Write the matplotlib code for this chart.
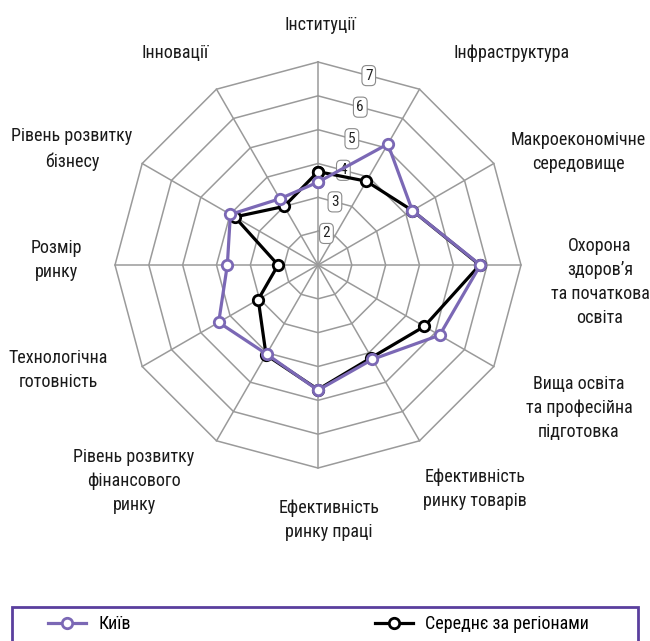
import numpy as np
import matplotlib
matplotlib.use("Agg")
import matplotlib.pyplot as plt
from matplotlib import font_manager
from matplotlib.lines import Line2D
from matplotlib.patches import Rectangle

names = {f.name for f in font_manager.fontManager.ttflist}
fam = None
for cand in ["Roboto Condensed", "Liberation Sans Narrow", "Liberation Sans", "DejaVu Sans"]:
    if cand in names:
        fam = cand
        break
plt.rcParams['font.family'] = [fam, 'DejaVu Sans']

categories = ["Інституції", "Інфраструктура", "Макроекономічне\nсередовище",
              "Охорона\nздоров’я\nта початкова\nосвіта",
              "Вища освіта\nта професійна\nпідготовка",
              "Ефективність\nринку товарів", "Ефективність\nринку праці",
              "Рівень розвитку\nфінансового\nринку", "Технологічна\nготовність",
              "Розмір\nринку", "Рівень розвитку\nбізнесу", "Інновації"]
kyiv = [3.45, 5.13, 4.22, 5.80, 5.15, 4.22, 4.70, 4.04, 4.39, 3.68, 3.99, 3.26]
average = [3.76, 3.86, 4.22, 5.78, 4.63, 4.16, 4.68, 4.07, 3.04, 2.18, 3.84, 3.00]
ring_values = [2, 3, 4, 5, 6, 7]
r_min, r_max = 1, 7
series_names = ["Київ", "Середнє за регіонами"]

# label positions (figure pixels, centre of text)
label_pos = [(320, 25), (512, 53), (578, 152), (600, 282), (579, 408),
             (475, 489), (329, 520), (134, 481), (58, 370), (56, 260),
             (72, 149), (175, 53)]

W, H = 650, 641
fig = plt.figure(figsize=(W/100, H/100), dpi=100)
cx, cy, R = 318, 265, 203
ax = fig.add_axes([(cx-R)/W, 1-(cy+R)/H, 2*R/W, 2*R/H], projection='polar')
ax.set_theta_zero_location('N')
ax.set_theta_direction(-1)
ax.set_ylim(r_min, r_max)
ax.grid(False)
ax.set_xticks([]); ax.set_yticks([])
ax.spines['polar'].set_visible(False)
ax.patch.set_visible(False)

n = len(categories)
theta = np.arange(n) * 2*np.pi/n
tc = np.append(theta, theta[0])

grid_c = '#9a9a9a'
for v in ring_values:
    ax.plot(tc, [v]*(n+1), color=grid_c, lw=1.1, zorder=1, clip_on=False)
for t in theta:
    ax.plot([t, t], [r_min, r_max], color=grid_c, lw=1.1, zorder=1, clip_on=False)

# ring value labels on polygon edge at 15 degrees
half = np.pi/n
for v in ring_values:
    rr = r_min + (v - r_min)*np.cos(half)
    ax.text(half, rr, str(v), ha='center', va='center', fontsize=11, color='#222222',
            zorder=2,
            bbox=dict(boxstyle='round,pad=0.2,rounding_size=0.3', fc='white',
                      ec='#8a8a8a', lw=0.8))

purple = '#7b68b5'
kc = np.append(kyiv, kyiv[0])
ac = np.append(average, average[0])
ax.plot(tc, ac, color='black', lw=2.3, marker='o', ms=7.5, mfc='white', mec='black',
        mew=2, zorder=4, clip_on=False)
ax.plot(tc, kc, color=purple, lw=2.3, marker='o', ms=7.5, mfc='white', mec=purple,
        mew=2, zorder=5, clip_on=False)

for lab, (x, y) in zip(categories, label_pos):
    fig.text(x/W, 1-y/H, lab, ha='center', va='center', fontsize=13,
             color='#1a1a1a', linespacing=1.45)

# legend
fig.patches.append(Rectangle((12/W, -0.01), 626/W, 1-607/H+0.01, transform=fig.transFigure,
                             fill=False, ec='#5a3f9e', lw=2, clip_on=False))
h1 = Line2D([], [], color=purple, lw=2.3, marker='o', ms=7.5, mfc='white', mec=purple, mew=2)
h2 = Line2D([], [], color='black', lw=2.3, marker='o', ms=7.5, mfc='white', mec='black', mew=2)
fig.legend([h1, h2], series_names, loc='center left', bbox_to_anchor=(48/W, 1-624/H),
           ncol=2, frameon=False, fontsize=13, handlelength=2.1, handletextpad=0.7,
           columnspacing=13.5, borderaxespad=0, borderpad=0)

fig.savefig('out.png', dpi=100)
